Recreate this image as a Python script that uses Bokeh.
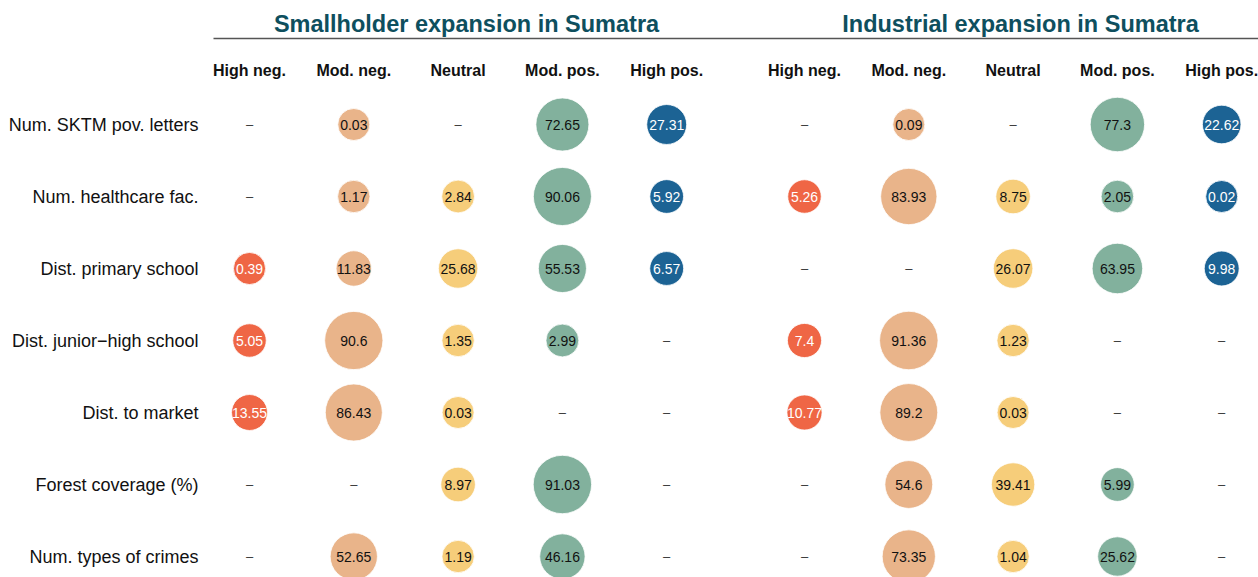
from bokeh.plotting import figure
from bokeh.models import Range1d, ColumnDataSource
from bokeh.core.properties import value
from bokeh.embed import file_html
from bokeh.resources import INLINE

# ---------------- data ----------------
rows = ["Num. SKTM pov. letters", "Num. healthcare fac.", "Dist. primary school",
        "Dist. junior\u2212high school", "Dist. to market", "Forest coverage (%)",
        "Num. types of crimes"]
categories = ["High neg.", "Mod. neg.", "Neutral", "Mod. pos.", "High pos."]
panels = ["Smallholder expansion in Sumatra", "Industrial expansion in Sumatra"]

smallholder = [
    [None, 0.03, None, 72.65, 27.31],
    [None, 1.17, 2.84, 90.06, 5.92],
    [0.39, 11.83, 25.68, 55.53, 6.57],
    [5.05, 90.6, 1.35, 2.99, None],
    [13.55, 86.43, 0.03, None, None],
    [None, None, 8.97, 91.03, None],
    [None, 52.65, 1.19, 46.16, None],
]
industrial = [
    [None, 0.09, None, 77.3, 22.62],
    [5.26, 83.93, 8.75, 2.05, 0.02],
    [None, None, 26.07, 63.95, 9.98],
    [7.4, 91.36, 1.23, None, None],
    [10.77, 89.2, 0.03, None, None],
    [None, 54.6, 39.41, 5.99, None],
    [None, 73.35, 1.04, 25.62, None],
]

colors = ["#ef6645", "#e9b48a", "#f6cd7a", "#82b19d", "#1c6394"]
text_colors = ["white", "#111111", "#111111", "#111111", "white"]
title_color = "#0e4f5e"
FONT = "Liberation Sans"

# ---------------- layout (in column / row units) ----------------
W, H = 1258, 577
col_px = 104.3
row_px = 72.0
x0_px, y0_px = 249.0, 124.0
panel_offset = 555.0 / col_px

p = figure(width=W, height=H, output_backend="svg", toolbar_location=None,
           x_range=Range1d(-x0_px / col_px, (W - x0_px) / col_px),
           y_range=Range1d((H - y0_px) / row_px, -y0_px / row_px),
           min_border=0, outline_line_color=None)
p.axis.visible = False
p.grid.visible = False
p.background_fill_color = "white"
p.border_fill_color = "white"

bx, by, bs, bc, btxt, btc = [], [], [], [], [], []
dx, dy = [], []
for k, data in enumerate([smallholder, industrial]):
    off = k * panel_offset
    for i, row in enumerate(data):
        for j, v in enumerate(row):
            x = off + j
            if v is None:
                dx.append(x); dy.append(i)
            else:
                bx.append(x); by.append(i)
                bs.append(32 + 0.29 * v)
                bc.append(colors[j])
                btxt.append(f"{v:g}")
                btc.append(text_colors[j])

src = ColumnDataSource(dict(x=bx, y=by, size=bs, color=bc, txt=btxt, tc=btc))
p.scatter("x", "y", size="size", fill_color="color", line_color="white",
          line_width=0.8, source=src)
p.text("x", "y", text="txt", text_color="tc", text_font=value(FONT),
       text_font_size="14px", text_align="center", text_baseline="middle", source=src)

p.text(dx, dy, text=["\u2013"] * len(dx), text_color="#333333", text_font=value(FONT),
       text_font_size="13px", text_align="center", text_baseline="middle")

# column headers
hx, hy, ht = [], [], []
for k in range(2):
    for j, c in enumerate(categories):
        hx.append(k * panel_offset + j); hy.append(-54 / row_px); ht.append(c)
p.text(hx, hy, text=ht, text_color="#111111", text_font=value(FONT),
       text_font_size="16px", text_font_style="bold", text_align="center",
       text_baseline="middle")

# panel titles
tx = [(466 - x0_px) / col_px, (1020 - x0_px) / col_px]
p.text(tx, [-101 / row_px] * 2, text=panels, text_color=title_color,
       text_font=value(FONT), text_font_size="23.5px", text_font_style="bold",
       text_align="center", text_baseline="middle")

# separator line
p.segment(x0=[(213 - x0_px) / col_px], y0=[-86 / row_px],
          x1=[(W - x0_px) / col_px], y1=[-86 / row_px],
          line_color="#555555", line_width=1.5)

# row labels
p.text([(198 - x0_px) / col_px] * len(rows), list(range(len(rows))), text=rows,
       text_color="#111111", text_font=value(FONT), text_font_size="18px",
       text_align="right", text_baseline="middle")

open("out.html", "w").write(file_html(p, INLINE))
